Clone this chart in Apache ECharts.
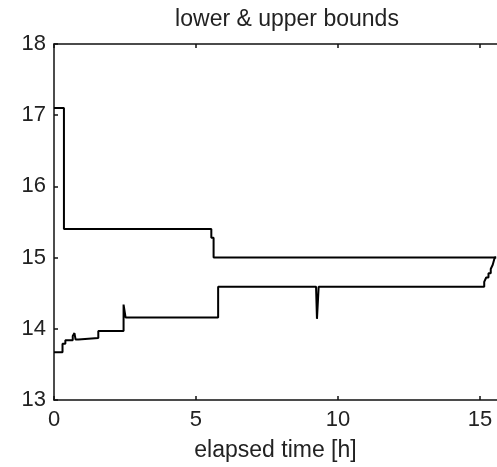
<!DOCTYPE html>
<html>
<head>
<meta charset="utf-8">
<script src="https://cdn.jsdelivr.net/npm/echarts@6/dist/echarts.min.js"></script>
<style>
  html, body { margin: 0; padding: 0; background: #fff; }
  #chart { width: 497px; height: 467px; }
</style>
</head>
<body>
<div id="chart"></div>
<script>
// valores (tempo em horas)
const upperX = [0, 0.35, 5.54, 5.62, 15.57];
const upperY = [17.1, 15.4, 15.28, 15.0, 15.0];

const lowerX = [0, 0.3, 0.4, 0.66, 0.72, 0.76, 0.86, 1.56, 2.45, 2.52, 5.78, 9.23, 9.26, 9.32, 15.15, 15.22, 15.3, 15.38, 15.45, 15.52, 15.57];
const lowerY = [13.67, 13.79, 13.84, 13.9, 13.94, 13.85, 13.87, 13.97, 14.34, 14.16, 14.59, 14.56, 14.14, 14.59, 14.66, 14.72, 14.78, 14.84, 14.9, 15.0, 15.0];

const xTicks = [0, 5, 10, 15];
const yTicks = [13, 14, 15, 16, 17, 18];

const chart = echarts.init(document.getElementById("chart"));

const font = "Liberation Sans, Arial, sans-serif";
const axisLine = { show: true, lineStyle: { color: "#111", width: 1.5 } };
const tick = { show: true, inside: true, length: 4, lineStyle: { color: "#111", width: 1.5 } };

const opcoes = {
  animation: false,
  title: {
    text: "lower & upper bounds",
    left: 282,
    textAlign: "center",
    top: 3,
    textStyle: { fontFamily: font, fontSize: 23, fontWeight: "normal", color: "#222" },
  },
  // a imagem corta a caixa na borda direita
  grid: { left: 54, top: 44, bottom: 66, right: 0 },
  xAxis: [
    {
      type: "value",
      position: "bottom",
      min: 0,
      max: 15.6,
      name: "elapsed time [h]",
      nameLocation: "middle",
      nameGap: 39,
      nameTextStyle: { fontFamily: font, fontSize: 23, color: "#222" },
      axisLine: axisLine,
      axisTick: Object.assign({ customValues: xTicks }, tick),
      axisLabel: { customValues: xTicks, fontFamily: font, fontSize: 22, color: "#222", margin: 9 },
      splitLine: { show: false },
    },
    {
      type: "value",
      position: "top",
      min: 0,
      max: 15.6,
      axisLine: axisLine,
      axisTick: Object.assign({ customValues: xTicks }, tick),
      axisLabel: { show: false },
      splitLine: { show: false },
    },
  ],
  yAxis: {
    type: "value",
    position: "left",
    min: 13,
    max: 18,
    interval: 1,
    axisLine: axisLine,
    axisTick: Object.assign({ customValues: yTicks }, tick),
    axisLabel: { customValues: yTicks, fontFamily: font, fontSize: 22, color: "#222", margin: 8 },
    splitLine: { show: false },
  },
  series: [
    {
      name: "upper",
      type: "line",
      step: "end",
      showSymbol: false,
      lineStyle: { color: "#000", width: 2 },
      data: upperX.map((x, i) => [x, upperY[i]]),
    },
    {
      name: "lower",
      type: "line",
      step: "end",
      showSymbol: false,
      lineStyle: { color: "#000", width: 2 },
      data: lowerX.map((x, i) => [x, lowerY[i]]),
    },
  ],
};

chart.setOption(opcoes);
</script>
</body>
</html>
